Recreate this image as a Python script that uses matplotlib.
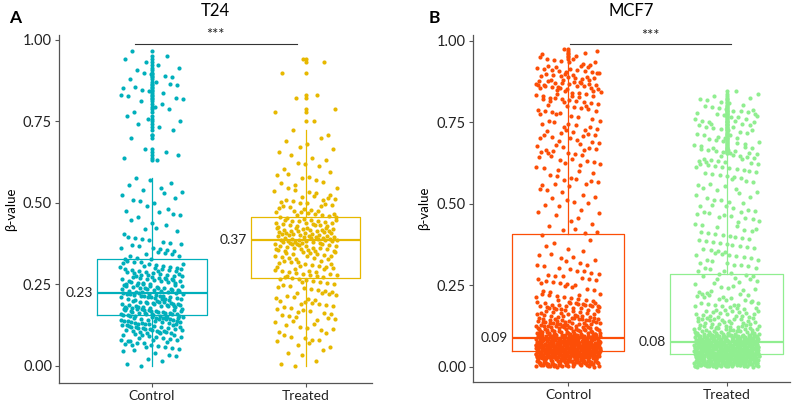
import numpy as np
import matplotlib
matplotlib.use('Agg')
import matplotlib.pyplot as plt

plt.rcParams['font.family'] = ['Lato', 'DejaVu Sans']

# Data: number of points per 0.025-wide beta-value bin (0.000-0.025, 0.025-0.050, ...)
bin_w = 0.025
t24_control_counts = [4, 5, 12, 15, 25, 28, 32, 28, 26, 24, 22, 20, 12, 9, 8, 6, 4, 3, 4, 3,
                      4, 5, 4, 0, 0, 3, 2, 1, 2, 2, 3, 3, 4, 5, 5, 5, 3, 2, 2, 0]
t24_treated_counts = [3, 3, 4, 6, 6, 7, 8, 9, 9, 8, 11, 14, 13, 15, 20, 26, 24, 19, 12, 10,
                      9, 7, 5, 4, 4, 3, 3, 3, 2, 0, 1, 2, 1, 1, 0, 1, 0, 2, 0, 0]
mcf7_control_counts = [70, 135, 150, 75, 45, 35, 22, 25, 12, 6, 10, 8, 6, 5, 3, 2, 5, 3, 3, 4,
                       5, 4, 8, 5, 6, 7, 10, 8, 10, 8, 6, 10, 12, 14, 22, 16, 14, 9, 5, 0]
mcf7_treated_counts = [110, 150, 140, 80, 35, 22, 18, 14, 12, 8, 7, 8, 8, 9, 8, 8, 8, 6, 8, 7,
                       6, 6, 6, 8, 10, 12, 12, 9, 8, 10, 10, 10, 6, 3, 0, 0, 0, 0, 0, 0]

# box statistics: (q1, median, q3)
t24_control_box = (0.156, 0.224, 0.329)
t24_treated_box = (0.270, 0.385, 0.455)
mcf7_control_box = (0.048, 0.089, 0.406)
mcf7_treated_box = (0.038, 0.077, 0.284)

groups = ['Control', 'Treated']
t24_labels = ['0.23', '0.37']
mcf7_labels = ['0.09', '0.08']
t24_colors = ['#00AFBB', '#E7B800']
mcf7_colors = ['#FC4E07', '#90EE90']


def radical_inverse(n, base=3):
    # van der Corput sequence, used as a deterministic jitter
    r, f = 0.0, 1.0 / base
    while n > 0:
        r += f * (n % base)
        n //= base
        f /= base
    return r


def expand(counts):
    vals, offs = [], []
    g = 0
    for i, n in enumerate(counts):
        lo = i * bin_w
        for k in range(n):
            g += 1
            vals.append(lo + ((k * 0.6180339887 + i * 0.37) % 1) * bin_w)
            offs.append(radical_inverse(g) - 0.5)
    return np.array(vals), np.array(offs)


def box_stats(vals, box):
    q1, med, q3 = box
    iqr = q3 - q1
    inside = vals[(vals >= q1 - 1.5 * iqr) & (vals <= q3 + 1.5 * iqr)]
    return {'q1': q1, 'med': med, 'q3': q3,
            'whislo': inside.min(), 'whishi': inside.max(),
            'fliers': vals[(vals < inside.min()) | (vals > inside.max())]}


def panel(ax, counts_list, boxes, colors, labels, title, xlim, ylim, sig_x):
    for pos, (counts, box, col, lab) in enumerate(zip(counts_list, boxes, colors, labels), start=1):
        vals, offs = expand(counts)
        ax.scatter(pos + offs * 0.41, vals, s=9, color=col, linewidths=0, zorder=2)
        st = box_stats(vals, box)
        ax.bxp([st], positions=[pos], widths=0.71, showcaps=False, patch_artist=False,
               boxprops=dict(color=col, linewidth=0.9),
               whiskerprops=dict(color=col, linewidth=0.9),
               medianprops=dict(color=col, linewidth=1.6),
               flierprops=dict(marker='o', markersize=3, markerfacecolor=col,
                               markeredgecolor='none'),
               manage_ticks=False, zorder=3)
        ax.annotate(lab, (pos - 0.355, box[1]), xytext=(-3, 0), textcoords='offset points',
                    ha='right', va='center', fontsize=10, color='#222222')
    ax.set_xlim(*xlim)
    ax.set_ylim(*ylim)
    ax.set_xticks([1, 2])
    ax.set_xticklabels(groups, fontsize=10)
    ax.set_yticks([0, 0.25, 0.5, 0.75, 1.0])
    ax.set_yticklabels(['0.00', '0.25', '0.50', '0.75', '1.00'], fontsize=10.5)
    ax.set_ylabel('β-value', fontsize=9.5)
    ax.yaxis.set_label_coords(-0.135, 0.5)
    for side in ('top', 'right'):
        ax.spines[side].set_visible(False)
    for side in ('left', 'bottom'):
        ax.spines[side].set_color('#555555')
        ax.spines[side].set_linewidth(0.9)
    ax.tick_params(length=3, width=0.8, color='#555555', labelcolor='#222222', pad=2)
    ax.plot(sig_x, [0.988, 0.988], color='#333333', lw=0.8, clip_on=False)
    ax.text(np.mean(sig_x), 0.993, '***', ha='center', va='bottom', fontsize=10.5, color='#222222')
    ax.set_title(title, fontsize=12, pad=14)


fig = plt.figure(figsize=(7.96, 4.08), dpi=100)
ax_a = fig.add_axes([0.0741, 0.0613, 0.3932, 0.8529])
ax_b = fig.add_axes([0.5942, 0.0637, 0.3983, 0.8505])

panel(ax_a, [t24_control_counts, t24_treated_counts], [t24_control_box, t24_treated_box],
      t24_colors, t24_labels, 'T24', (0.396, 2.43), (-0.053, 1.015), [0.89, 1.94])
panel(ax_b, [mcf7_control_counts, mcf7_treated_counts], [mcf7_control_box, mcf7_treated_box],
      mcf7_colors, mcf7_labels, 'MCF7', (0.40, 2.40), (-0.047, 1.017), [1.01, 2.03])

fig.text(0.012, 0.975, 'A', fontsize=12.5, fontweight='bold', va='top')
fig.text(0.538, 0.975, 'B', fontsize=12.5, fontweight='bold', va='top')

plt.savefig('out.png', dpi=100)
